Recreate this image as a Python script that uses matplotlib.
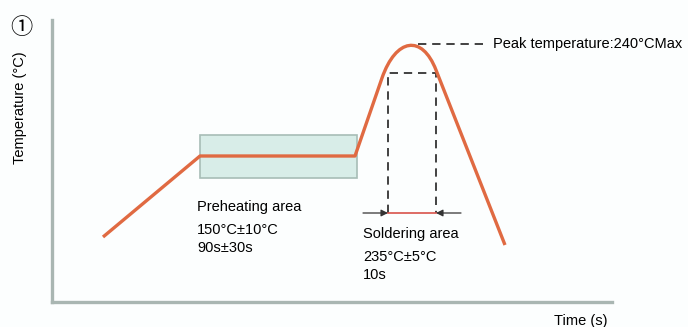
import matplotlib.pyplot as plt
from matplotlib.path import Path
from matplotlib.patches import PathPatch, Rectangle

plt.rcParams['font.family'] = ['Liberation Sans', 'DejaVu Sans']

# reflow profile nodes (schematic axis units), peak drawn as a bezier
profile_time = [51, 148, 303, 330, 344, 370, 384, 453]
profile_temp = [65, 146, 146, 224, 264, 268, 232, 57]
profile_codes = [Path.MOVETO, Path.LINETO, Path.LINETO, Path.LINETO,
                 Path.CURVE4, Path.CURVE4, Path.CURVE4, Path.LINETO]

preheat_time = [148, 305]
preheat_temp = [124, 167]
solder_time = [336, 384]
solder_temp = [89, 229]
peak_temp = 258
peak_line_time = [366, 436]

preheat_labels = ["Preheating area", "150°C±10°C", "90s±30s"]
solder_labels = ["Soldering area", "235°C±5°C", "10s"]
peak_label = "Peak temperature:240°CMax"

orange = "#e06a42"
spine_col = "#a9b6b2"

fig = plt.figure(figsize=(6.88, 3.27), dpi=100)
fig.patch.set_facecolor("#fcfefe")
ax = fig.add_axes([52/688, 25/327, 560/688, 282/327])
ax.set_facecolor("none")
ax.set_xlim(0, 560)
ax.set_ylim(0, 282)
ax.set_xticks([])
ax.set_yticks([])
for s in ["top", "right"]:
    ax.spines[s].set_visible(False)
for s in ["left", "bottom"]:
    ax.spines[s].set_color(spine_col)
    ax.spines[s].set_linewidth(2.4)

# preheat zone box
ax.add_patch(Rectangle((preheat_time[0], preheat_temp[0]),
                       preheat_time[1] - preheat_time[0],
                       preheat_temp[1] - preheat_temp[0],
                       facecolor="#d8ede8", edgecolor="#a7bdb6", lw=1.2, zorder=1))

# soldering window (dashed)
ax.plot([solder_time[0], solder_time[0], solder_time[1], solder_time[1]],
        [solder_temp[0], solder_temp[1], solder_temp[1], solder_temp[0]],
        color="#222222", ls=(0, (5, 3.5)), lw=1.2, zorder=2)
ax.plot(solder_time, [solder_temp[0]] * 2, color="#d9534a", lw=1.2, zorder=3)
ax.annotate("", xy=(solder_time[0], solder_temp[0]), xytext=(solder_time[0] - 25, solder_temp[0]),
            arrowprops=dict(arrowstyle="-|>", color="#333333", lw=0.9, mutation_scale=10,
                            shrinkA=0, shrinkB=0))
ax.annotate("", xy=(solder_time[1], solder_temp[0]), xytext=(solder_time[1] + 25, solder_temp[0]),
            arrowprops=dict(arrowstyle="-|>", color="#333333", lw=0.9, mutation_scale=10,
                            shrinkA=0, shrinkB=0))

# peak line
ax.plot(peak_line_time, [peak_temp] * 2, color="#222222", ls=(0, (5, 3.5)), lw=1.2)

# profile curve
path = Path(list(zip(profile_time, profile_temp)), profile_codes)
ax.add_patch(PathPatch(path, facecolor="none", edgecolor=orange, lw=2.4,
                       capstyle="butt", joinstyle="round", zorder=4))

fs = 10.5
ax.text(peak_line_time[1] + 5, peak_temp, peak_label, fontsize=fs, va="center", ha="left")
for lbl, y in zip(preheat_labels, [95, 72, 54]):
    ax.text(145, y, lbl, fontsize=fs, va="center", ha="left")
for lbl, y in zip(solder_labels, [68, 45, 27]):
    ax.text(311, y, lbl, fontsize=fs, va="center", ha="left")

ax.text(-31, 274, "①", fontsize=16, va="center", ha="center", clip_on=False,
        family=["Noto Sans CJK JP", "DejaVu Sans"])
ax.text(-32, 194, "Temperature (°C)", fontsize=fs, rotation=90, va="center", ha="center",
        clip_on=False)
ax.text(529, -19, "Time (s)", fontsize=fs, va="center", ha="center", clip_on=False)

fig.savefig("out.png", dpi=100, facecolor=fig.get_facecolor())
